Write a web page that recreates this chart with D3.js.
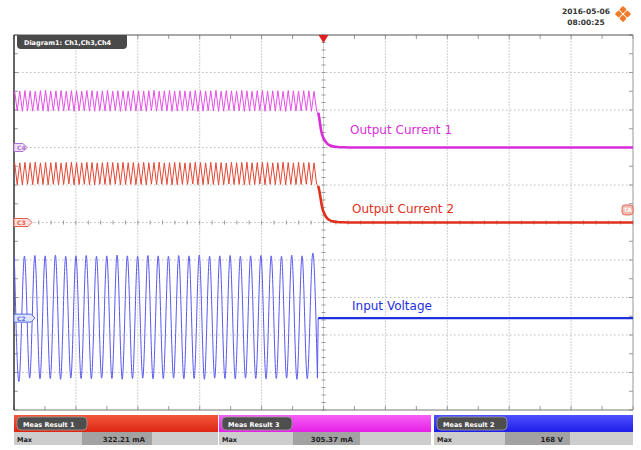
<!DOCTYPE html>
<html><head><meta charset="utf-8">
<script src="https://cdn.jsdelivr.net/npm/d3@7"></script>
<style>html,body{margin:0;padding:0;background:#fff;}svg{display:block;}</style>
</head><body>
<script>
// ---------- DATA ----------
// time axis: ms, 100 ms/div, trigger at 0
const timeTicks = [-500,-400,-300,-200,-100,0,100,200,300,400,500];
const divTicks = [-5,-4,-3,-2,-1,0,1,2,3,4,5];

// Output Current 1 (mA) ripple extrema before the trigger
const current1Peaks = [303,301,304,302,300,303,305,301,302,304,300,303,302,301,304,303,300,302,305,301,303,302,300,304,302,301,303,305,300,302,304,301,303,302,300,304,303,301,302,305,300,303,302,301,304,302,300,303,304,301,302,303,300,304,302,301,303,302,300];
const current1Troughs = [195,193,196,194,197,195,193,196,194,195,197,193,195,196,194,193,196,195,194,197,193,195,196,194,195,193,197,194,196,195,193,194,196,195,197,193,194,196,195,193,194,197,195,196,193,194,195,197,193,196,194,195,193,196,194,195,197,193,195];
// decay after the switch-off
const current1DecayT = [-8.5,-7,-5.5,-4,-2.5,0,3,6,10,15,22,32,50,500];
const current1DecayV = [185,160,125,95,72,50,33,21,12,6,3,1,0,0];

// Output Current 2 (mA)
const current2Peaks = [320,318,321,319,322,318,320,319,321,317,320,322,319,318,321,320,318,319,322,320,318,321,319,320,317,321,319,320,322,318,319,321,320,318,319,322,320,318,321,319,320,317,321,319,320,322,318,319,321,320,318,319,322,320,318,321,319,320,318];
const current2Troughs = [203,201,204,202,205,203,201,204,202,203,205,201,203,204,202,201,204,203,202,205,201,203,204,202,203,201,205,202,204,203,201,202,204,203,205,201,202,204,203,201,202,205,203,204,201,202,203,205,201,204,202,203,201,204,202,203,205,201,203];
const current2DecayT = [-8.5,-6.5,-4.5,-3,-1.5,0,3,6,10,15,22,32,50,500];
const current2DecayV = [195,165,125,95,72,57,36,22,12,6,3,1,0,0];
const rippleT0 = -499, rippleHalfPeriod = 4.17;

// Input Voltage (V) sine extrema before the trigger
const voltagePeaks = [166,165,167,166,168,165,166,167,165,166,168,166,165,167,166,165,167,166,168,165,166,167,165,166,167,166,165,168,166,165];
const voltageTroughs = [-161,-160,-162,-161,-163,-160,-161,-162,-160,-161,-163,-161,-160,-162,-161,-160,-162,-161,-163,-160,-161,-162,-160,-161,-162,-161,-160,-163,-161,-160];
const voltageT0 = -499.5, voltageHalfPeriod = 8.3;
const voltageTailT = [-8.6, 500];
const voltageTailV = [0, 0];

const labels = ["Output Current 1","Output Current 2","Input Voltage"];
const measNames = ["Meas Result 1","Meas Result 3","Meas Result 2"];
const measValues = ["322.21 mA","305.37 mA","168 V"];
const dateText = ["2016-05-06","08:00:25"];
const diagramText = "Diagram1: Ch1,Ch3,Ch4";

// ---------- CHART ----------
const W = 641, H = 450;
const L = 14, R = 633, T = 35, B = 410;
const svg = d3.select("body").append("svg").attr("width", W).attr("height", H);
const x = d3.scaleLinear().domain([-500, 500]).range([L, R]);
const yDiv = d3.scaleLinear().domain([-5, 5]).range([B, T]);

const ch = {
  c1: {offset: 2, perDiv: 200, color: "#e64fe6", colorFlat: "#d82ed8", tag: "C4", tagFill: "#efe0f5", tagStroke: "#b070d0"},
  c2: {offset: 0, perDiv: 200, color: "#e24634", colorFlat: "#e0301c", tag: "C3", tagFill: "#fbe0dc", tagStroke: "#e06050"},
  v:  {offset: -2.55, perDiv: 100, color: "#5858f0", colorFlat: "#1e30e0", tag: "C2", tagFill: "#dfe4fb", tagStroke: "#5a6ae0"}
};
const yOf = (c, v) => yDiv(c.offset + v / c.perDiv);

const defs = svg.append("defs");
defs.append("clipPath").attr("id", "plotclip").append("rect")
  .attr("x", L).attr("y", T).attr("width", R - L).attr("height", B - T);

// grid
const grid = svg.append("g");
grid.selectAll(".vg").data(timeTicks.slice(1, -1)).enter().append("line")
  .attr("x1", d => x(d)).attr("x2", d => x(d)).attr("y1", T).attr("y2", B)
  .attr("stroke", "#d0d0d0").attr("stroke-width", 1)
  .attr("stroke-dasharray", d => d === 0 ? null : "2,1");
grid.selectAll(".hg").data(divTicks.slice(1, -1)).enter().append("line")
  .attr("x1", L).attr("x2", R).attr("y1", d => yDiv(d)).attr("y2", d => yDiv(d))
  .attr("stroke", "#bdbdbd").attr("stroke-width", 1).attr("stroke-dasharray", "1.5,2.5");

// minor ticks on borders and center axes
const halfDivT = d3.range(-500, 501, 50);
const halfDivY = d3.range(-5, 5.01, 0.5);
const fineT = d3.range(-500, 501, 20);
const fineY = d3.range(-5, 5.01, 0.2);
const tk = svg.append("g").attr("stroke", "#9a9a9a").attr("stroke-width", 1);
halfDivT.forEach(t => {
  tk.append("line").attr("x1", x(t)).attr("x2", x(t)).attr("y1", B).attr("y2", B - 4);
  tk.append("line").attr("x1", x(t)).attr("x2", x(t)).attr("y1", T).attr("y2", T + 4);
});
halfDivY.forEach(d => {
  tk.append("line").attr("x1", R).attr("x2", R - 4).attr("y1", yDiv(d)).attr("y2", yDiv(d));
  tk.append("line").attr("x1", L).attr("x2", L + 4).attr("y1", yDiv(d)).attr("y2", yDiv(d));
});
fineT.forEach(t => {
  tk.append("line").attr("x1", x(t)).attr("x2", x(t)).attr("y1", yDiv(0) - 2).attr("y2", yDiv(0) + 2);
});
fineY.forEach(d => {
  tk.append("line").attr("x1", x(0) - 2).attr("x2", x(0) + 2).attr("y1", yDiv(d)).attr("y2", yDiv(d));
});

// borders
svg.append("line").attr("x1", L).attr("x2", R).attr("y1", T).attr("y2", T).attr("stroke", "#555").attr("stroke-width", 1.2);
svg.append("line").attr("x1", L).attr("x2", R).attr("y1", B).attr("y2", B).attr("stroke", "#777").attr("stroke-width", 1);
svg.append("line").attr("x1", L).attr("x2", L).attr("y1", T).attr("y2", B).attr("stroke", "#333").attr("stroke-width", 1.5);
svg.append("line").attr("x1", R).attr("x2", R).attr("y1", T).attr("y2", B).attr("stroke", "#999").attr("stroke-width", 1);

// traces
const traces = svg.append("g").attr("clip-path", "url(#plotclip)");
function interleave(peaks, troughs, t0, half) {
  const n = Math.min(peaks.length, troughs.length);
  const pts = [];
  for (let i = 0; i < 2 * n; i++) {
    pts.push([t0 + i * half, i % 2 === 0 ? peaks[i / 2] : troughs[(i - 1) / 2]]);
  }
  return pts;
}
function drawRipple(c, peaks, troughs, decayT, decayV) {
  const pts = interleave(peaks, troughs, rippleT0, rippleHalfPeriod);
  const line = d3.line().x(d => x(d[0])).y(d => yOf(c, d[1]));
  traces.append("path").attr("d", line(pts.concat([[decayT[0], decayV[0]]]))).attr("fill", "none")
    .attr("stroke", c.color).attr("stroke-width", 1);
  const tail = decayT.map((t, i) => [t, decayV[i]]);
  traces.append("path").attr("d", d3.line().x(d => x(d[0])).y(d => yOf(c, d[1])).curve(d3.curveMonotoneX)(tail))
    .attr("fill", "none").attr("stroke", c.colorFlat).attr("stroke-width", 2.6);
}
drawRipple(ch.c1, current1Peaks, current1Troughs, current1DecayT, current1DecayV);
drawRipple(ch.c2, current2Peaks, current2Troughs, current2DecayT, current2DecayV);

const vpts = interleave(voltagePeaks, voltageTroughs, voltageT0, voltageHalfPeriod);
traces.append("path")
  .attr("d", d3.line().x(d => x(d[0])).y(d => yOf(ch.v, d[1])).curve(d3.curveNatural)(vpts))
  .attr("fill", "none").attr("stroke", ch.v.color).attr("stroke-width", 1);
// thin step from the last trough up to the flat level
traces.append("path")
  .attr("d", d3.line().x(d => x(d[0])).y(d => yOf(ch.v, d[1]))([vpts[vpts.length - 1], [voltageTailT[0], voltageTailV[0]]]))
  .attr("fill", "none").attr("stroke", ch.v.color).attr("stroke-width", 1);
const vtail = voltageTailT.map((t, i) => [t, voltageTailV[i]]);
traces.append("path")
  .attr("d", d3.line().x(d => x(d[0])).y(d => yOf(ch.v, d[1]))(vtail))
  .attr("fill", "none").attr("stroke", ch.v.colorFlat).attr("stroke-width", 2.4);

// trace labels
const labelFont = "'DejaVu Sans', Verdana, sans-serif";
[[ch.c1, 350, 134, labels[0]], [ch.c2, 352, 213, labels[1]], [ch.v, 352, 310, labels[2]]].forEach(([c, lx, ly, txt]) => {
  svg.append("text").attr("x", lx).attr("y", ly).text(txt)
    .attr("font-family", labelFont).attr("font-size", 12).attr("fill", c.colorFlat);
});

// channel tags on the left
[ch.c1, ch.c2, ch.v].forEach((c, i) => {
  const yy = yOf(c, 0);
  const w = [13, 18, 21][i];
  const g = svg.append("g");
  g.append("path")
    .attr("d", `M${L},${yy - 4} L${L + w - 4},${yy - 4} L${L + w},${yy} L${L + w - 4},${yy + 4} L${L},${yy + 4} Z`)
    .attr("fill", c.tagFill).attr("stroke", c.tagStroke).attr("stroke-width", 1);
  g.append("text").attr("x", L + 3).attr("y", yy + 2.5).text(c.tag)
    .attr("font-family", labelFont).attr("font-size", 6).attr("font-weight", "bold").attr("fill", c.tagStroke);
});

// trigger level tag on the right
{
  const yy = yOf(ch.c2, 67);
  svg.append("rect").attr("x", R - 11).attr("y", yy - 5).attr("width", 11).attr("height", 10).attr("rx", 3)
    .attr("fill", "#f3b8b0").attr("stroke", "#e07060");
  svg.append("text").attr("x", R - 9.5).attr("y", yy + 2.5).text("TA")
    .attr("font-family", labelFont).attr("font-size", 6).attr("font-weight", "bold").attr("fill", "#fff");
}

// trigger marker
svg.append("path").attr("d", `M${x(0) - 5},${T} L${x(0) + 5},${T} L${x(0)},${T + 8} Z`).attr("fill", "#e02020");

// diagram tab
svg.append("path")
  .attr("d", `M17,${T} L127,${T} L127,${T + 10} Q127,${T + 14} 123,${T + 14} L21,${T + 14} Q17,${T + 14} 17,${T + 10} Z`)
  .attr("fill", "#4a4a4a");
svg.append("text").attr("x", 24).attr("y", T + 10).text(diagramText)
  .attr("font-family", labelFont).attr("font-size", 6.5).attr("font-weight", "bold").attr("fill", "#fff");

// date / time
svg.append("text").attr("x", 586).attr("y", 14).attr("text-anchor", "middle").text(dateText[0])
  .attr("font-family", labelFont).attr("font-size", 7.5).attr("font-weight", "bold").attr("fill", "#333");
svg.append("text").attr("x", 586).attr("y", 25).attr("text-anchor", "middle").text(dateText[1])
  .attr("font-family", labelFont).attr("font-size", 7.5).attr("font-weight", "bold").attr("fill", "#333");

// logo (four small diamonds)
{
  const cx = 623, cy = 14, s = 4.4;
  [[0, -s], [s, 0], [0, s], [-s, 0]].forEach(([dx, dy]) => {
    svg.append("rect").attr("x", -2.7).attr("y", -2.7).attr("width", 5.4).attr("height", 5.4).attr("rx", 1)
      .attr("transform", `translate(${cx + dx},${cy + dy}) rotate(45)`).attr("fill", "#f07a28");
  });
}

// measurement panels
const panels = [
  {x0: 14, x1: 218, f0: 82, f1: 152, c0: "#f2583a", c1: "#dc2612"},
  {x0: 219, x1: 431, f0: 293, f1: 360, c0: "#f660f6", c1: "#e420e4"},
  {x0: 434, x1: 633, f0: 505, f1: 570, c0: "#5050ff", c1: "#1e1ee8"}
];
panels.forEach((p, i) => {
  const gid = "pg" + i;
  const lg = defs.append("linearGradient").attr("id", gid).attr("x1", 0).attr("x2", 0).attr("y1", 0).attr("y2", 1);
  lg.append("stop").attr("offset", "0%").attr("stop-color", p.c0);
  lg.append("stop").attr("offset", "100%").attr("stop-color", p.c1);
  svg.append("rect").attr("x", p.x0).attr("y", 415).attr("width", p.x1 - p.x0).attr("height", 17).attr("fill", `url(#${gid})`);
  svg.append("rect").attr("x", p.x0 + 3).attr("y", 417).attr("width", 70).attr("height", 13).attr("rx", 4)
    .attr("fill", "#4e4e4e").attr("stroke", "#a0a0a0").attr("stroke-width", 0.8);
  svg.append("text").attr("x", p.x0 + 9).attr("y", 426.5).text(measNames[i])
    .attr("font-family", labelFont).attr("font-size", 6.5).attr("font-weight", "bold").attr("fill", "#fff");
  svg.append("rect").attr("x", p.x0).attr("y", 432).attr("width", p.x1 - p.x0).attr("height", 13).attr("fill", "#cdcdcd");
  svg.append("rect").attr("x", p.f0).attr("y", 432).attr("width", p.f1 - p.f0).attr("height", 13).attr("fill", "#a2a2a2");
  svg.append("text").attr("x", p.x0 + 3).attr("y", 441.5).text("Max")
    .attr("font-family", labelFont).attr("font-size", 6.5).attr("font-weight", "bold").attr("fill", "#222");
  svg.append("text").attr("x", p.f1 - 7).attr("y", 441.5).attr("text-anchor", "end").text(measValues[i])
    .attr("font-family", labelFont).attr("font-size", 7).attr("font-weight", "bold").attr("fill", "#222");
});
</script>
</body></html>
